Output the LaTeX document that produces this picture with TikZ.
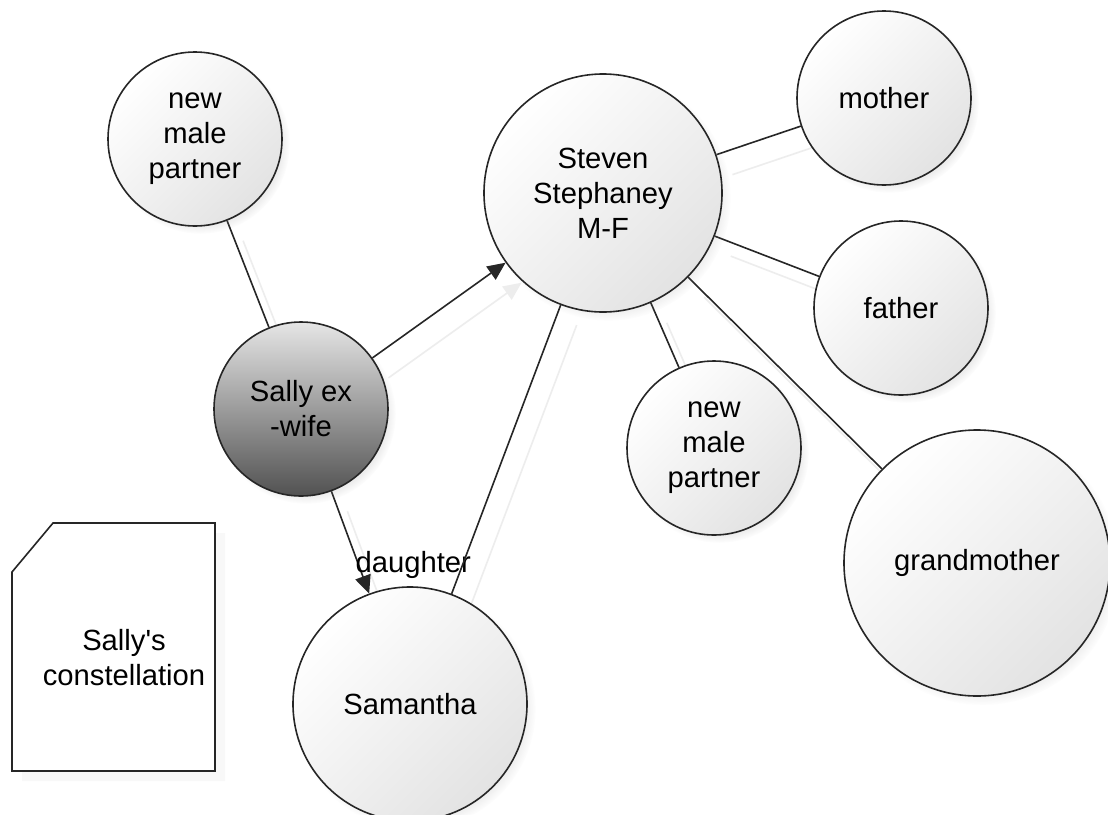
\documentclass[tikz,border=0pt]{standalone}
\usepackage{fontspec}
\setmainfont{Liberation Sans}
\usetikzlibrary{shadows,arrows.meta,fadings}
\pgfdeclarelayer{bg}
\pgfsetlayers{bg,main}
\begin{document}
\begin{tikzpicture}[x=0.5pt,y=-0.5pt,
  font=\fontsize{14.6}{17.5}\selectfont,
  person/.style={circle, draw=black!85, line width=0.8pt, inner sep=0pt, align=center,
    top color=white, bottom color=black!11, shading angle=45,
    circular drop shadow={shadow xshift=2.5pt, shadow yshift=-2.5pt, shadow scale=1.03, opacity=0.22}},
  focus/.style={person, top color=black!10, bottom color=black!68},
  link/.style={draw=black!85, line width=0.8pt},
  arrowlink/.style={link, -{Triangle[length=9pt,width=8pt]}},
  ghost/.style={draw=black!7, line width=0.8pt, transform canvas={shift={(8pt,-10pt)}}},
  ghostarrow/.style={ghost, -{Triangle[length=9pt,width=8pt]}},
  notebox/.style={draw=black!85, line width=0.8pt, fill=white,
    drop shadow={shadow xshift=5pt, shadow yshift=-5pt, opacity=0.05}},
  notetext/.style={align=center, inner sep=0pt}
]
\useasboundingbox (0,0) rectangle (1108,814);

% nodes
\node[person, minimum size=87pt]  (nmpA)  at (195,139) {new\\male\\partner};
\node[person, minimum size=119pt] (steven) at (603,193) {Steven\\Stephaney\\M-F};
\node[person, minimum size=87pt]  (mother) at (884,98) {mother};
\node[person, minimum size=87pt]  (father) at (901,308) {father};
\node[focus,  minimum size=87pt]  (sally)  at (301,409) {Sally ex\\-wife};
\node[person, minimum size=87pt]  (nmpB)   at (714,448) {new\\male\\partner};
\node[person, minimum size=133pt] (grandma) at (977,563) {grandmother};
\node[person, minimum size=117pt] (samantha) at (410,704) {Samantha};

% note
\draw[notebox] (12,572) -- (53,523) -- (215,523) -- (215,771) -- (12,771) -- cycle;
\node[notetext] (note) at (124,658) {Sally\textquotesingle s\\constellation};

% connectors
\begin{pgfonlayer}{bg}
\fill[white] (0,0) rectangle (1108,814);
\draw[ghost] (nmpA) -- (sally);
\draw[ghostarrow] (sally) -- (steven);
\draw[ghostarrow] (sally) -- (samantha);
\draw[ghost] (samantha) -- (steven);
\draw[ghost] (steven) -- (mother);
\draw[ghost] (steven) -- (father);
\draw[ghost] (steven) -- (nmpB);
\draw[ghost] (steven) -- (grandma);

\draw[link] (nmpA) -- (sally);
\draw[arrowlink] (sally) -- (steven);
\draw[arrowlink] (sally) -- (samantha)
  node[pos=0.7, anchor=west, inner sep=0pt, xshift=-1.5pt, yshift=-1pt] (lbl) {daughter};
\draw[link] (samantha) -- (steven);
\draw[link] (steven) -- (mother);
\draw[link] (steven) -- (father);
\draw[link] (steven) -- (nmpB);
\draw[link] (steven) -- (grandma);
\end{pgfonlayer}
\end{tikzpicture}
\end{document}
